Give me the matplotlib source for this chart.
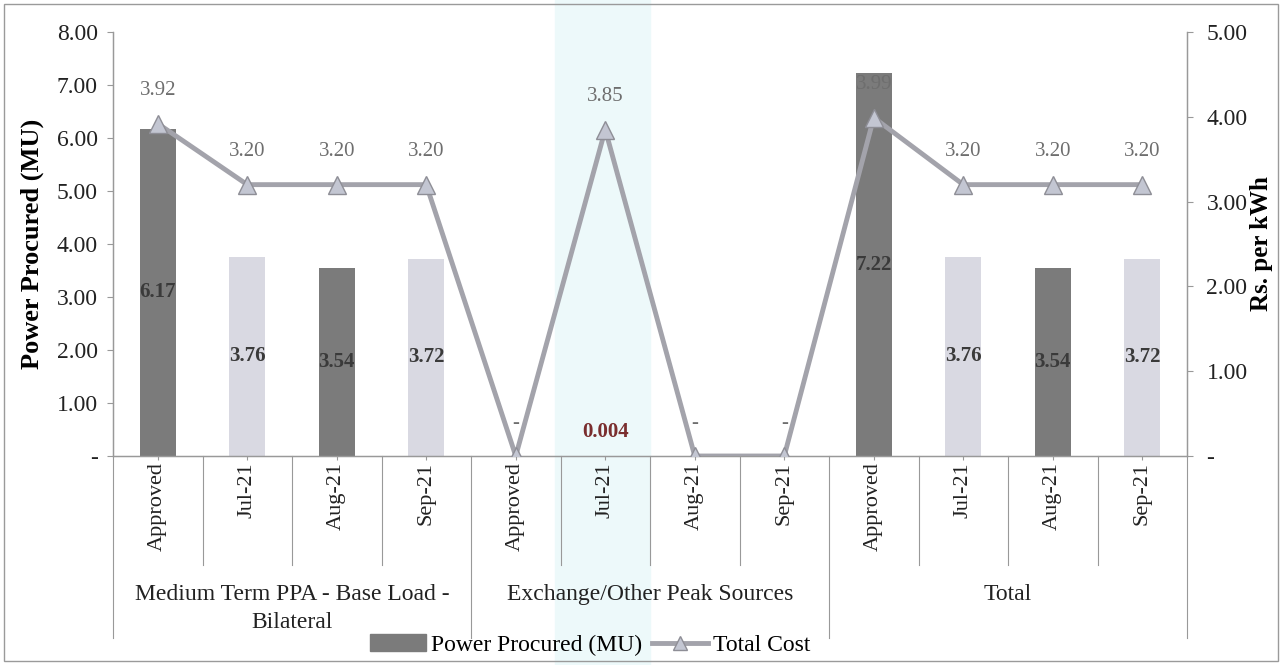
import numpy as np
import matplotlib
matplotlib.use("Agg")
import matplotlib.pyplot as plt
from matplotlib.patches import Rectangle, Patch
from matplotlib.lines import Line2D
from matplotlib.ticker import FuncFormatter

# chart data
months = ["Approved", "Jul-21", "Aug-21", "Sep-21"]
groups = ["Medium Term PPA - Base Load -\nBilateral", "Exchange/Other Peak Sources", "Total"]
power_mu = [6.17, 3.76, 3.54, 3.72, 0, 0.004, 0, 0, 7.22, 3.76, 3.54, 3.72]
cost_rs = [3.92, 3.20, 3.20, 3.20, 0, 3.85, 0, 0, 3.99, 3.20, 3.20, 3.20]

categories = months * len(groups)
x = np.arange(len(categories))

plt.rcParams['font.family'] = ['Liberation Serif', 'DejaVu Serif']

fig = plt.figure(figsize=(12.82, 6.65), dpi=100)
# faint cyan scan band, behind everything
fig.patches.append(Rectangle((555 / 1282, 0), 95 / 1282, 1, transform=fig.transFigure,
                             color="#edf9fa", zorder=-5))
# outer frame
fig.patches.append(Rectangle((4 / 1282, 4 / 665), 1274 / 1282, 657 / 665, transform=fig.transFigure,
                             fill=False, edgecolor="#9a9a9a", lw=1.0, zorder=-4))

ax = fig.add_axes([113 / 1282, 1 - 456 / 665, (1187 - 113) / 1282, (456 - 32) / 665])
ax.patch.set_visible(False)
ax2 = ax.twinx()
ax2.patch.set_visible(False)

dark, light = "#7b7b7b", "#d9d9e2"
colors = [dark if m in ("Approved", "Aug-21") else light for m in categories]
bars = ax.bar(x, power_mu, width=0.4, color=colors, zorder=2)

ax.set_xlim(-0.5, len(categories) - 0.5)
ax.set_ylim(0, 8)
ax.set_yticks(np.arange(0, 9, 1))
ax2.set_ylim(0, 5)
ax2.set_yticks(np.arange(0, 6, 1))
fmt = FuncFormatter(lambda v, p: "-" if abs(v) < 1e-9 else f"{v:.2f}")
ax.yaxis.set_major_formatter(fmt)
ax2.yaxis.set_major_formatter(fmt)

for a in (ax, ax2):
    a.tick_params(axis='y', labelsize=17, length=4, width=0.8)
    for s in a.spines.values():
        s.set_color("#999999")
        s.set_linewidth(0.9)
    a.spines['top'].set_visible(False)
ax.tick_params(axis='y', colors="#999999", labelcolor="#222222", pad=7)
ax2.tick_params(axis='y', colors="#999999", labelcolor="#222222", pad=10)

ax.set_ylabel("Power Procured (MU)", fontsize=19, fontweight='bold')
ax.yaxis.set_label_coords(-0.064, 0.5)
ax2.set_ylabel("Rs. per kWh", fontsize=18, fontweight='bold')
ax2.yaxis.set_label_coords(1.059, 0.5)

# bar value labels
for xi, v in zip(x, power_mu):
    if v == 0:
        continue
    if v < 0.5:
        ax.annotate(f"{v:.3f}", (xi, 0), xytext=(0, 24), textcoords="offset pixels",
                    ha='center', va='center', fontsize=15, fontweight='bold', color="#7a2e2e", zorder=5)
    else:
        ax.text(xi, v / 2, f"{v:.2f}", ha='center', va='center', fontsize=15,
                fontweight='bold', color="#3a3a3a", zorder=5)

# cost line
ax2.plot(x, cost_rs, color="#a3a3ab", lw=3.5, marker='^', markersize=13,
         markerfacecolor="#c3c6d2", markeredgecolor="#8e8e96", zorder=4)
for xi, v in zip(x, cost_rs):
    lab = "-" if v == 0 else f"{v:.2f}"
    ax2.annotate(lab, (xi, v), xytext=(0, 33), textcoords="offset pixels",
                 ha='center', va='center', fontsize=15, color="#6e6e6e", zorder=5)

# multi-level x axis
ax.set_xticks(x)
ax.set_xticklabels([])
ax.tick_params(axis='x', length=3, colors="#999999")
for xi, lab in zip(x, categories):
    ax.text(xi, -0.015, lab, transform=ax.get_xaxis_transform(), rotation=90,
            ha='center', va='top', fontsize=16, color="#222222")
for b in np.arange(len(categories) + 1) - 0.5:
    i = int(b + 0.5)
    bottom = -0.43 if i % 4 == 0 else -0.257
    ax.plot([b, b], [0, bottom], transform=ax.get_xaxis_transform(), color="#999999",
            lw=0.8, clip_on=False)
for g, name in enumerate(groups):
    ax.text(g * 4 + 1.5, -0.302, name, transform=ax.get_xaxis_transform(), ha='center',
            va='top', fontsize=17, color="#222222", linespacing=1.45)

handles = [Patch(facecolor=dark, edgecolor=dark),
           Line2D([], [], color="#a3a3ab", lw=3.5, marker='^', markersize=10,
                  markerfacecolor="#c3c6d2", markeredgecolor="#8e8e96")]
fig.legend(handles, ["Power Procured (MU)", "Total Cost"], loc='center',
           bbox_to_anchor=(590 / 1282, 1 - 645 / 665), ncol=2, frameon=False,
           fontsize=17, handlelength=2.4, handletextpad=0.2, columnspacing=0.4)

fig.savefig("out.png", dpi=100)
